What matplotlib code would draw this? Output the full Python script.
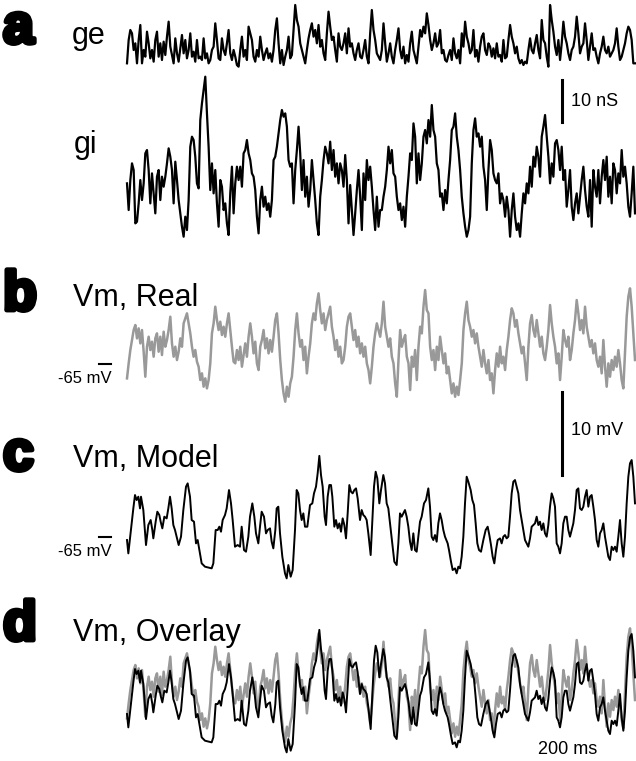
import numpy as np
import matplotlib.pyplot as plt
import matplotlib.patheffects as pe

plt.rcParams['font.family'] = ['Liberation Sans', 'DejaVu Sans']

# excitatory conductance (nS), one sample every 5 ms
ge = [1.6, 7.2, 9.6, 8.8, 4.8, 6.4, 1.6, 7.2, 10.8, 1.6,
      4.8, 3.2, 9.2, 6.4, 2.8, 4.8, 2.0, 7.2, 9.2, 3.2,
      6.4, 2.4, 6.8, 3.6, 8.0, 11.6, 5.6, 3.6, 1.6, 7.6,
      4.0, 2.0, 5.2, 8.4, 4.0, 7.2, 2.8, 4.8, 8.8, 3.2,
      4.4, 2.0, 7.2, 2.8, 3.2, 2.4, 7.6, 2.8, 4.0, 1.6,
      2.4, 4.8, 5.6, 11.2, 7.2, 2.8, 2.4, 7.6, 4.8, 3.6,
      6.4, 9.6, 4.0, 2.4, 4.8, 3.2, 1.2, 0.8, 4.8, 8.0,
      3.2, 4.8, 2.4, 10.4, 8.8, 7.2, 3.2, 2.0, 4.8, 3.2,
      8.0, 4.8, 2.4, 4.0, 5.2, 2.8, 4.0, 2.0, 4.8, 9.6,
      12.4, 6.4, 1.6, 4.8, 1.2, 3.2, 4.8, 8.0, 2.8, 3.6,
      9.6, 15.6, 12.0, 10.4, 6.4, 4.8, 3.2, 1.6, 4.8, 7.6,
      9.6, 11.2, 8.0, 9.6, 6.4, 10.8, 5.6, 7.2, 4.0, 2.4,
      8.8, 14.0, 10.4, 7.2, 8.0, 4.8, 2.0, 8.8, 5.6, 4.8,
      6.4, 8.8, 4.0, 10.0, 5.6, 6.4, 4.0, 2.4, 4.8, 6.4,
      3.2, 2.8, 4.8, 7.2, 3.2, 1.6, 8.8, 14.4, 9.6, 7.2,
      4.0, 3.2, 2.4,
      4.8, 11.2, 6.4, 2.0, 4.0, 6.4, 3.2, 1.6, 4.8, 7.2,
      10.0, 4.8, 2.8, 5.6, 1.6, 3.6, 2.0, 6.4, 9.2, 4.8,
      3.2, 1.6, 5.6, 9.6, 8.0, 10.4, 8.8, 13.6, 10.8, 7.2,
      4.8, 6.4, 8.8, 5.6, 6.4, 9.6, 4.0, 4.8, 2.4, 2.0,
      3.6, 4.8, 2.4, 7.6, 4.0, 2.8, 4.8, 1.6, 8.8, 5.6,
      11.6, 8.0, 6.4, 4.0, 4.8, 9.6, 3.2, 4.8, 2.0, 5.6,
      8.0, 8.8, 4.8, 3.6, 6.4, 5.6, 3.2, 5.2, 2.8, 6.4,
      3.2, 3.6, 2.0, 7.2, 2.8, 3.2, 7.2, 10.8, 8.0, 6.4,
      4.0, 5.6, 2.8, 1.6, 2.4, 1.2, 2.0, 1.6, 4.8, 7.6,
      4.8, 4.0, 6.4, 8.4, 4.8, 2.8, 12.0, 7.2, 6.4, 3.2,
      0.8, 15.6, 12.0, 9.2, 5.6, 3.6, 7.2, 2.4, 6.4, 11.6,
      8.0, 6.4, 4.0, 2.4, 4.8, 5.6, 8.0, 12.8, 8.8, 4.0,
      5.6, 6.4, 11.2, 7.2, 2.4, 5.6, 8.8, 4.8, 5.2, 3.2,
      1.6, 4.0, 5.6, 8.0, 4.8, 4.0, 5.6, 3.2, 4.0, 4.8,
      6.4, 10.0, 5.6, 2.4, 3.2, 4.8, 6.4, 8.8, 10.4, 9.6,
      7.2, 1.6, 1.6]

# inhibitory conductance (nS), one sample every 5 ms
gi = [17.6, 11.2, 18.4, 22.4, 20.8, 8.0, 8.4, 12.8, 18.4, 13.6,
      17.6, 24.8, 25.6, 20.8, 12.8, 20.0, 15.2, 10.4, 19.2, 20.8,
      13.6, 19.2, 16.8, 19.2, 22.4, 26.0, 24.0, 20.8, 12.8, 22.8,
      18.4, 13.6, 10.4, 7.2, 4.8, 9.6, 6.4, 13.6, 26.4, 28.8,
      28.0, 24.0, 17.6, 16.4, 32.8, 36.8, 40.0, 43.2, 34.4, 26.4,
      16.0, 22.4, 15.2, 20.8, 12.8, 7.2, 18.4, 16.8, 11.2, 12.8,
      8.0, 5.2, 15.2, 21.6, 10.4, 17.6, 21.6, 18.4, 21.6, 16.8,
      24.8, 25.6, 28.0, 24.8, 23.2, 20.0, 19.2, 16.0, 9.6, 5.6,
      13.6, 16.8, 12.0, 14.4, 11.2, 12.8, 9.6, 13.6, 23.2, 24.0,
      26.4, 29.6, 32.8, 35.2, 33.6, 34.4, 31.2, 23.2, 21.6, 22.4,
      12.8, 20.8, 25.6, 31.2, 24.8, 16.0, 23.2, 14.4, 19.2, 12.0,
      16.0, 23.2, 18.4, 13.6, 8.0, 5.2, 14.4, 18.4, 23.2, 26.4,
      24.8, 22.4, 27.6, 20.8, 25.6, 19.2, 22.4, 17.6, 22.4, 20.8,
      16.8, 24.4, 18.4, 8.0, 17.2, 11.2, 5.2, 10.4, 16.0, 20.8,
      14.4, 6.4, 20.0, 13.6, 23.2, 18.4, 21.6, 16.8, 11.2, 6.4,
      14.4, 7.2, 11.2,
      11.2, 14.4, 16.8, 20.8, 26.4, 22.4, 25.6, 20.0, 19.2, 14.4,
      11.2, 12.8, 8.8, 12.0, 7.2, 14.4, 19.2, 24.8, 23.2, 32.0,
      28.8, 17.6, 24.8, 18.4, 22.4, 28.8, 30.4, 27.2, 32.8, 28.8,
      36.4, 30.4, 28.8, 22.4, 20.8, 14.4, 15.2, 11.2, 16.0, 12.8,
      18.4, 23.2, 30.4, 31.2, 34.4, 28.8, 25.6, 20.8, 14.4, 10.4,
      7.2, 4.8, 6.4, 9.6, 22.4, 30.4, 33.2, 28.8, 29.6, 26.4,
      28.8, 21.6, 18.4, 11.2, 20.8, 28.0, 25.6, 20.0, 18.4, 17.6,
      20.0, 12.8, 15.2, 13.6, 9.6, 14.4, 11.2, 4.8, 11.2, 15.2,
      9.6, 6.4, 8.0, 4.8, 10.4, 15.2, 12.8, 17.6, 15.2, 21.6,
      16.8, 24.0, 21.6, 26.4, 24.0, 19.2, 28.8, 31.2, 34.0, 28.8,
      24.0, 17.6, 22.4, 19.2, 27.2, 28.0, 25.6, 20.8, 26.4, 18.4,
      20.8, 12.0, 16.0, 20.8, 12.0, 8.8, 12.8, 15.2, 10.4, 14.4,
      18.4, 21.6, 16.0, 12.0, 9.6, 18.4, 7.2, 20.8, 16.8, 14.4,
      20.8, 12.8, 19.2, 23.2, 18.4, 24.0, 14.4, 19.2, 12.8, 22.4,
      20.8, 15.2, 20.0, 17.6, 25.6, 19.2, 21.6, 17.6, 12.0, 9.6,
      15.2, 21.6, 10.4]

# recorded membrane potential (mV), one sample every 5 ms
vm_real = [-66.7, -64.9, -63.3, -62.1, -60.9, -60.3, -61.9, -60.7, -62.5, -60.9,
           -63.5, -66.5, -62.9, -61.7, -63.3, -62.3, -64.1, -61.9, -61.3, -63.5,
           -61.7, -63.9, -61.1, -62.9, -62.1, -60.9, -59.3, -62.5, -64.1, -62.9,
           -64.5, -63.5, -61.9, -62.9, -60.1, -59.5, -58.9, -60.1, -61.3, -62.9,
           -64.1, -63.3, -64.7, -65.3, -66.9, -66.1, -67.7, -66.7, -67.9, -66.9,
           -64.9, -61.3, -60.1, -58.1, -59.7, -60.9, -59.9, -61.5, -60.5, -61.7,
           -60.1, -58.9, -60.9, -62.9, -64.7, -64.9, -63.3, -64.5, -62.9, -65.3,
           -63.9, -62.5, -64.1, -61.7, -60.1, -61.7, -63.7, -62.3, -64.9, -65.7,
           -62.9, -62.1, -60.9, -63.1, -61.9, -63.7, -62.1, -63.5, -61.7, -59.7,
           -58.9, -61.3, -64.5, -66.9, -68.5, -69.5, -67.7, -68.9, -67.3, -66.5,
           -64.1, -60.9, -58.9, -61.3, -62.9, -62.1, -64.5, -62.9, -66.1, -64.1,
           -62.5, -60.1, -58.9, -59.7, -57.7, -56.5, -58.5, -60.1, -58.9, -60.9,
           -59.7, -58.9, -58.1, -60.5, -61.7, -63.3, -62.1, -64.1, -62.9, -64.9,
           -64.5, -62.9, -60.5, -59.3, -58.9, -60.5, -62.1, -60.9, -62.9, -61.7,
           -63.7, -62.5, -64.1, -62.9, -64.9, -65.7, -67.3, -65.3, -62.9, -61.3,
           -60.1, -60.9, -61.7,
           -60.1, -57.5, -60.5, -61.7, -62.9, -61.9, -64.1, -64.9, -67.3, -68.9,
           -64.5, -60.9, -62.9, -62.1, -61.5, -64.1, -64.9, -68.1, -64.1, -65.3,
           -63.3, -66.9, -62.9, -60.5, -61.3, -58.1, -56.1, -58.5, -58.9, -62.9,
           -64.5, -63.3, -65.7, -62.9, -64.5, -61.7, -63.3, -64.9, -63.7, -66.1,
           -65.3, -66.9, -68.5, -67.3, -68.9, -67.7, -68.7, -66.9, -64.9, -60.9,
           -58.9, -57.5, -59.7, -60.5, -61.7, -60.9, -62.5, -61.3, -62.9, -64.1,
           -65.3, -63.3, -64.9, -66.1, -64.5, -66.9, -66.1, -68.5, -65.7, -63.7,
           -65.3, -62.9, -64.9, -64.1, -65.7, -63.3, -61.7, -59.7, -58.3, -58.9,
           -60.5, -59.7, -61.3, -62.5, -63.7, -62.9, -64.9, -66.9, -62.9, -60.1,
           -59.1, -60.9, -61.7, -59.7, -61.3, -62.9, -61.7, -63.7, -64.5, -62.9,
           -60.9, -57.9, -60.1, -61.7, -62.9, -64.9, -63.7, -66.9, -64.1, -60.9,
           -62.1, -62.9, -61.7, -64.5, -63.3, -61.3, -59.7, -57.3, -58.9, -60.9,
           -59.7, -61.3, -58.1, -60.5, -61.7, -62.9, -62.1, -63.7, -62.5, -64.5,
           -65.3, -64.1, -66.1, -62.1, -65.3, -67.7, -64.9, -66.5, -64.5, -65.7,
           -64.1, -65.3, -63.3, -64.9, -66.9, -67.9, -63.7, -59.3, -56.9, -55.9,
           -58.1, -61.3, -64.5]

# model membrane potential: time (ms) and Vm (mV)
t_model = [0, 4, 19, 24, 29, 34, 39, 42, 49, 57, 64, 71, 76, 79, 86, 91, 97, 101, 106, 112,
           119, 124, 129, 134, 139, 144, 149, 155, 162, 169, 177, 182, 189, 194, 201, 207, 212, 217, 224, 234,
           244, 254, 259, 266, 272, 277, 282, 287, 294, 299, 306, 312, 317, 324, 332, 339, 344, 351, 357, 364,
           369, 376, 382, 387, 394, 399, 404, 411, 417, 422, 429, 434, 439, 445, 449, 454, 459, 466, 474, 479,
           484, 491, 497, 504, 509, 514, 519, 524, 529, 534, 541, 549, 556, 561, 567, 572, 577, 582, 587, 593,
           597, 602, 607, 612, 616, 622, 627, 632, 637, 642, 647, 652, 657, 662, 667, 672, 677, 682, 687, 692,
           699, 704, 709, 714, 719, 724, 731, 736, 741, 746, 751, 757,
           762, 769, 774, 779, 784, 789, 796, 802, 809, 814, 819, 824, 829, 834, 839, 844, 849, 854, 859, 864,
           869, 874, 879, 884, 891, 897, 904, 909, 914, 919, 924, 929, 934, 939, 944, 949, 954, 962, 966, 972,
           977, 984, 989, 994, 999, 1004, 1009, 1014, 1019, 1024, 1031, 1036, 1041, 1046, 1051, 1056, 1062, 1069,
           1076, 1082, 1087, 1092, 1097, 1102, 1107, 1112,
           1119, 1124, 1129, 1134, 1139, 1144, 1149, 1154, 1159, 1164, 1169, 1174, 1179, 1184, 1189, 1194,
           1199, 1204, 1209, 1214, 1219, 1224, 1229, 1234, 1239, 1244, 1249, 1254, 1259, 1264, 1269, 1274,
           1279, 1284, 1289, 1294, 1299, 1304, 1309, 1314, 1319, 1324, 1329, 1334, 1339, 1344, 1349, 1354,
           1359, 1364, 1369, 1374, 1379, 1384, 1389, 1394, 1399, 1404, 1409, 1414, 1419, 1424, 1429, 1434,
           1439, 1444, 1449, 1454, 1459, 1464, 1469, 1474, 1479, 1484, 1489, 1494, 1499, 1504, 1509, 1514,
           1519, 1524]
vm_model = [-65.4, -67.0, -61.6, -60.0, -60.6, -60.2, -61.6, -60.2, -61.8, -66.0,
            -63.6, -63.0, -64.2, -65.2, -63.2, -62.0, -62.4, -63.2, -64.0, -62.6,
            -62.8, -61.6, -60.2, -61.6, -63.6, -64.2, -65.0, -66.0, -65.0, -61.8,
            -59.0, -58.6, -60.2, -63.0, -63.2, -65.8, -65.4, -66.6, -68.2, -68.6,
            -68.7, -68.8, -68.2, -64.2, -64.2, -63.8, -64.4, -63.0, -62.4, -61.6,
            -59.4, -61.0, -63.0, -66.2, -66.0, -66.2, -63.8, -66.6, -66.8, -65.0,
            -62.6, -61.0, -62.6, -64.6, -65.8, -63.8, -62.0, -62.6, -64.6, -64.2,
            -64.0, -65.6, -66.4, -64.2, -61.6, -61.4, -64.6, -67.4, -69.4, -70.0,
            -68.4, -69.8, -69.0, -64.2, -59.4, -59.8, -61.8, -63.0, -62.2, -63.8,
            -63.8, -61.2, -61.0, -59.8, -59.0, -57.4, -55.3, -57.6, -59.0, -62.6,
            -63.6, -60.2, -58.8, -58.8, -60.2, -63.8, -63.0, -64.0, -63.4, -64.4,
            -62.8, -63.6, -65.2, -62.2, -58.8, -59.6, -59.8, -59.4, -59.2, -60.4,
            -63.0, -61.8, -62.4, -62.6, -63.0, -64.6, -67.2, -63.0, -59.0, -57.2,
            -58.0, -61.0,
            -59.4, -57.6, -58.6, -61.0, -61.6, -63.4, -65.8, -68.0, -68.4, -65.8,
            -62.2, -62.6, -62.2, -61.8, -62.6, -63.8, -65.6, -66.6, -64.6, -66.6,
            -66.8, -65.0, -63.2, -62.6, -61.0, -60.6, -59.2, -61.4, -65.0, -65.4,
            -64.8, -65.6, -63.4, -62.2, -63.0, -64.2, -65.0, -65.8, -66.6, -68.0,
            -69.0, -68.8, -69.4, -68.6, -68.8, -67.4, -65.0, -61.0, -57.8, -58.4,
            -59.4, -60.6, -61.2, -63.4, -65.8, -66.6, -66.8, -65.4, -64.2, -63.8,
            -64.8, -66.0, -67.4, -68.2, -66.6, -65.4,
            -65.2, -65.8, -65.0, -64.8, -65.2, -65.0, -62.6, -59.8, -58.4, -58.2,
            -59.0, -59.8, -61.8, -63.0, -64.2, -65.4, -65.8, -66.2, -65.2, -63.8,
            -63.6, -63.4, -62.6, -63.6, -63.2, -64.2, -63.4, -64.6, -65.0, -63.6,
            -61.4, -59.8, -60.4, -61.4, -65.8, -66.2, -67.0, -65.8, -63.4, -62.6,
            -62.6, -64.2, -65.0, -64.2, -63.4, -61.8, -59.4, -59.2, -61.6, -61.8,
            -61.4, -60.2, -59.4, -61.4, -60.2, -60.0, -61.4, -63.0, -65.4, -66.2,
            -64.6, -64.2, -63.4, -65.0, -66.2, -67.4, -67.8, -66.2, -66.6, -66.2,
            -66.8, -65.0, -63.0, -65.8, -67.4, -65.0, -61.0, -57.8, -56.2, -55.8,
            -57.8, -61.0]

rest_mv = -65
T_END = 1524   # ms spanned by each trace
GRAY = '#999999'

W, H = 636, 761
fig = plt.figure(figsize=(W / 100, H / 100), dpi=100)

X0, X1 = 127, 635  # trace extent in pixels


def trace_axes(top, bottom, ref_val, ref_px, px_per_unit):
    # axes placed in pixel space, with y scaled so the scale bars hold
    ax = fig.add_axes([X0 / W, 1 - bottom / H, (X1 - X0) / W, (bottom - top) / H])
    ax.set_xlim(0, T_END)
    ax.set_ylim(ref_val - (bottom - ref_px) / px_per_unit,
                ref_val + (ref_px - top) / px_per_unit)
    ax.axis('off')
    return ax


def ftext(x, y, s, **kw):
    fig.text(x / W, 1 - y / H, s, **kw)


NS_PX = 4.167   # px per nS
MV_PX = 8.333   # px per mV

ax_ge = trace_axes(0, 75, 0, 70, NS_PX)
ax_gi = trace_axes(70, 262, 0, 256.7, NS_PX)
ax_b = trace_axes(282, 410, rest_mv, 364.2, MV_PX)
ax_c = trace_axes(448, 592, rest_mv, 536.7, MV_PX)
ax_d1 = trace_axes(616, 760, rest_mv, 704.2, MV_PX)
ax_d2 = trace_axes(616, 760, rest_mv, 710.7, MV_PX)

t_ge = np.linspace(0, T_END, len(ge))
t_gi = np.linspace(0, T_END, len(gi))
t_real = np.linspace(0, T_END, len(vm_real))

ax_ge.plot(t_ge, ge, color='black', lw=1.6, clip_on=False)
ax_gi.plot(t_gi, gi, color='black', lw=1.6, clip_on=False)
ax_b.plot(t_real, vm_real, color=GRAY, lw=1.8, clip_on=False)
ax_c.plot(t_model, vm_model, color='black', lw=1.4, clip_on=False)
ax_d1.plot(t_real, vm_real, color=GRAY, lw=1.8, clip_on=False)
ax_d2.plot(t_model, vm_model, color='black', lw=1.4, clip_on=False)

# scale bars
ax_gi.plot([1305, 1305], [32.3, 42.3], color='black', lw=2.2, clip_on=False)
ax_gi.text(1332, 37.3, '10 nS', fontsize=13, va='center', ha='left')
ax_c.plot([1305, 1305], [-57.6, -47.6], color='black', lw=2.2, clip_on=False)
ax_c.text(1332, -52.2, '10 mV', fontsize=13, va='center', ha='left')
ax_d2.text(1233, -69.6, '200 ms', fontsize=13, va='center', ha='left')

# -65 mV markers
for ax in (ax_b, ax_c):
    ax.plot([-84, -48], [rest_mv, rest_mv], color='black', lw=1.5, clip_on=False)
    ax.text(-46, rest_mv - 2.3, '-65 mV', fontsize=12, ha='right', va='baseline')

# panel letters and trace labels
bold = [pe.withStroke(linewidth=3.5, foreground='black')]
for letter, y in (('a', 43), ('b', 310), ('c', 470), ('d', 640)):
    ftext(3, y, letter, fontsize=40, fontweight='bold', va='baseline',
          path_effects=bold)

ftext(72, 44, 'ge', fontsize=22, va='baseline')
ftext(74, 153, 'gi', fontsize=22, va='baseline')
ftext(73, 306, 'Vm, Real', fontsize=22, va='baseline')
ftext(73, 467, 'Vm, Model', fontsize=22, va='baseline')
ftext(73, 641, 'Vm, Overlay', fontsize=22, va='baseline')

fig.savefig('out.png', dpi=100)
